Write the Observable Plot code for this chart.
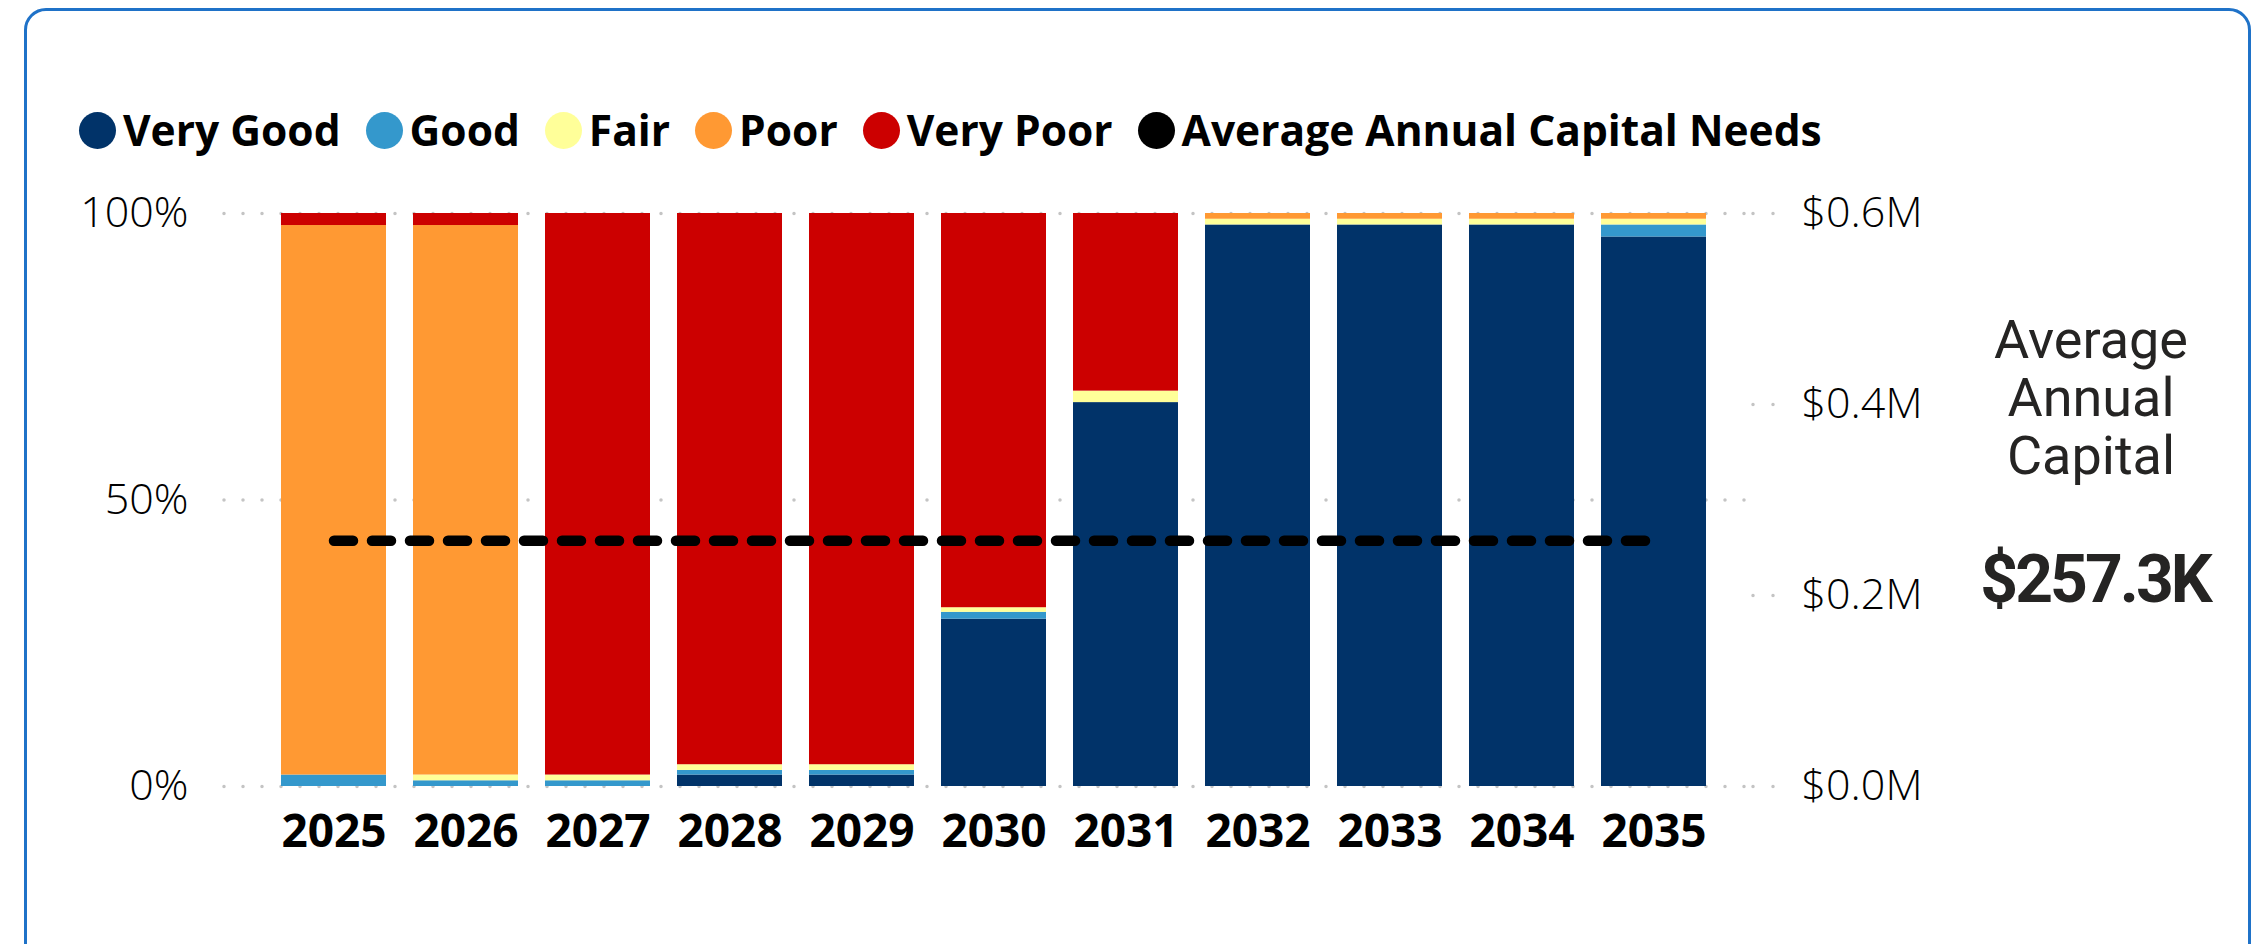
<!DOCTYPE html>
<html>
<head>
<meta charset="utf-8">
<script src="https://cdn.jsdelivr.net/npm/d3@7"></script>
<script src="https://cdn.jsdelivr.net/npm/@observablehq/plot@0.6"></script>
<style>
  html, body { margin: 0; padding: 0; background: #fff; width: 2263px; height: 944px; overflow: hidden; }
  #wrap { position: relative; width: 2263px; height: 944px; }
  #legend { height: 170px; box-sizing: border-box; padding-top: 100px; padding-left: 79px;
    display: flex; align-items: flex-start; font-family: 'Open Sans', sans-serif; font-weight: 700;
    font-size: 42.5px; color: #000; line-height: 60px; }
  .item { display: flex; align-items: center; margin-right: 25px; height: 60px; }
  .dot { width: 37px; height: 37px; border-radius: 50%; margin-right: 7px; }
  #border { position: absolute; left: 24px; top: 8px; width: 2227px; height: 980px; box-sizing: border-box;
    border: 3px solid #1F72C8; border-radius: 22px; pointer-events: none; }
  .card { position: absolute; left: 1950px; width: 300px; text-align: center; font-family: Roboto, sans-serif; color: #252423; }
  #cardLabel { top: 311px; left: 1941px; font-size: 54px; line-height: 58px; font-weight: 400; }
  #cardValue { top: 540px; left: 1945px; font-size: 66px; line-height: 80px; font-weight: 700; letter-spacing: -3px; }
  #chart svg { display: block; }
</style>
</head>
<body>
<div id="wrap">
  <div id="legend"></div>
  <div id="chart"></div>
  <div class="card" id="cardLabel">Average<br>Annual<br>Capital</div>
  <div class="card" id="cardValue"></div>
  <div id="border"></div>
</div>
<script>
// ---- data ----
const years = ["2025","2026","2027","2028","2029","2030","2031","2032","2033","2034","2035"];
const conditions = ["Very Good","Good","Fair","Poor","Very Poor"];
const conditionColors = ["#013369","#3498CC","#FFFF99","#FF9933","#CC0000"];
const veryGood = [0, 0, 0, 2.0, 2.0, 29.2, 67.0, 98.0, 98.0, 98.0, 95.9];
const good     = [2.0, 1.0, 1.0, 0.8, 0.8, 1.2, 0, 0, 0, 0, 2.1];
const fair     = [0, 1.0, 1.0, 1.0, 1.0, 0.8, 2.0, 1.0, 1.0, 1.0, 1.0];
const poor     = [95.9, 95.9, 0, 0, 0, 0, 0, 1.0, 1.0, 1.0, 1.0];
const veryPoor = [2.1, 2.1, 98.0, 96.2, 96.2, 68.8, 31.0, 0, 0, 0, 0];
const leftTicks = [0, 0.5, 1];
const rightTicks = [0, 0.2, 0.4, 0.6];   // $M
const rightMax = 0.6;                    // $M
const avgCapital = 0.2573;               // $M
const avgLabel = "Average Annual Capital Needs";
const cardValue = "$257.3K";

const series = [veryGood, good, fair, poor, veryPoor];
const data = years.flatMap((yr, i) => conditions.map((c, j) => ({year: yr, cond: c, value: series[j][i]})));

// ---- legend ----
const legend = document.getElementById("legend");
const legendItems = conditions.map((c, i) => [c, conditionColors[i]]).concat([[avgLabel, "#000"]]);
for (const [label, color] of legendItems) {
  const it = document.createElement("div"); it.className = "item";
  const d = document.createElement("div"); d.className = "dot"; d.style.background = color;
  const t = document.createElement("span"); t.textContent = label;
  it.appendChild(d); it.appendChild(t); legend.appendChild(it);
}
document.getElementById("cardValue").textContent = cardValue;

// ---- chart ----
const chart = Plot.plot({
  width: 2263, height: 774,
  marginTop: 43, marginBottom: 158, marginLeft: 224, marginRight: 511,
  style: {fontFamily: "'Open Sans', sans-serif", background: "white", color: "#111"},
  x: {domain: years, paddingInner: 0.2075, paddingOuter: 0.37, align: 0.55, axis: null},
  y: {domain: [0, 1], axis: null},
  color: {domain: conditions, range: conditionColors},
  marks: [
    Plot.gridY(leftTicks, {stroke: "#c4c4c4", strokeOpacity: 1, strokeWidth: 3.5, strokeDasharray: "0,19", strokeLinecap: "round"}),
    Plot.barY(data, {x: "year", y: "value", fill: "cond", order: conditions, offset: "normalize"}),
    Plot.lineY(years, {x: d => d, y: () => avgCapital / rightMax, stroke: "#000", strokeWidth: 10.5, strokeDasharray: "19,19"}),
    Plot.axisX({tickSize: 0, tickPadding: 28, fontSize: 46, fontWeight: "bold", fill: "#000", label: null}),
    Plot.axisY(leftTicks, {anchor: "left", tickSize: 0, tickPadding: 36, tickFormat: d3.format(".0%"), fontSize: 43, fontWeight: 300, fill: "#000", label: null}),
    Plot.axisY(rightTicks.map(v => v / rightMax), {anchor: "right", tickSize: 22, tickPadding: 27,
      stroke: "#c4c4c4", strokeWidth: 3.5, strokeDasharray: "0,20", strokeLinecap: "round",
      tickFormat: d => "$" + (d * rightMax).toFixed(1) + "M", fontSize: 43, fontWeight: 300, fill: "#000", label: null})
  ]
});
document.getElementById("chart").appendChild(chart);
</script>
</body>
</html>
